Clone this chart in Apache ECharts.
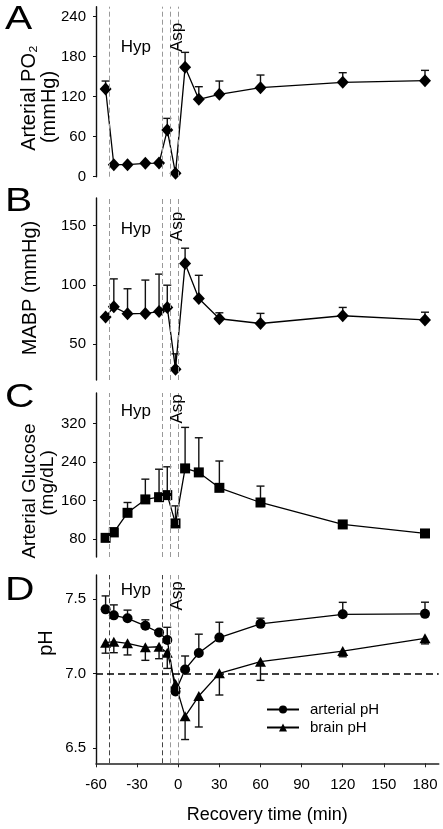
<!DOCTYPE html>
<html>
<head>
<meta charset="utf-8">
<script src="https://cdn.jsdelivr.net/npm/echarts@6/dist/echarts.min.js"></script>
<style>html,body{margin:0;padding:0;background:#fff;}#c{width:443px;height:829px;}</style>
</head>
<body>
<div id="c"></div>
<script>
// ---- data ----
const times = [-53, -47, -37, -24, -14, -8, -2, 5, 15, 30, 60, 120, 180];
const phaseLines = [-50, -12, -6, 0];
const xTicks = [-60, -30, 0, 30, 60, 90, 120, 150, 180];

const pao2 = [131.5, 18, 18, 20, 20.5, 70, 5, 164, 116, 123.5, 133.5, 141.5, 144];
const pao2Err = [12, 0, 0, 0, 0, 17.5, 0, 22.5, 19, 20, 19, 14.5, 15.5];
const pao2Ticks = [0, 60, 120, 180, 240];

const mabp = [73, 81.5, 75.7, 76, 77.5, 81, 29, 118, 88.5, 71.5, 67.5, 74, 70.5];
const mabpErr = [0, 23.5, 21, 28, 31.5, 18.7, 13, 12.8, 19.5, 5, 8.5, 7, 6.5];
const mabpTicks = [50, 100, 150];

const glucose = [82.7, 94, 134.6, 162.4, 167, 171.3, 112.6, 226.7, 218.4, 186.4, 156, 110.5, 91.8];
const glucoseErr = [0, 9.4, 21.4, 42, 58, 58.7, 36.4, 85, 71.8, 55.6, 34, 0, 0];
const glucoseTicks = [80, 160, 240, 320];

const arterialPH = [7.43, 7.39, 7.37, 7.32, 7.275, 7.225, 6.88, 7.028, 7.138, 7.241, 7.333, 7.397, 7.4];
const arterialPHErr = [0.09, 0.07, 0.055, 0.04, 0.015, 0.085, 0.03, 0.09, 0.126, 0.103, 0.038, 0.08, 0.078];
const brainPH = [7.207, 7.214, 7.203, 7.176, 7.18, 7.14, 6.93, 6.714, 6.85, 7.002, 7.08, 7.151, 7.236];
const brainPHErr = [0.07, 0.074, 0.078, 0.087, 0.08, 0.105, 0.05, 0.155, 0.207, 0.145, 0.125, 0.038, 0.037];
const phTicks = [6.5, 7.0, 7.5];
const phReference = 7.0;

// annotation anchors (data coordinates): [x, y] per panel
const hypAnchors = [[-31, 194], [-31, 146.4], [-31, 344], [-31, 7.56]];
const aspAnchors = [[-1, 209], [-1, 149], [-1, 350], [-1, 7.52]];

// ---- chart ----
const FONT = '"Liberation Sans", Arial, sans-serif';
const chart = echarts.init(document.getElementById('c'), null, {renderer: 'canvas'});

const panels = [
  {top: 6.7, height: 170, min: 0, max: 255, ticks: pao2Ticks, fmt: v => String(v)},
  {top: 198, height: 182, min: 20, max: 173, ticks: mabpTicks, fmt: v => String(v)},
  {top: 393, height: 164, min: 43, max: 383, ticks: glucoseTicks, fmt: v => String(v)},
  {top: 575, height: 188.3, min: 6.4, max: 7.66, ticks: phTicks, fmt: v => v.toFixed(1)}
];

const grids = [], xAxes = [], yAxes = [], series = [];
panels.forEach((p, i) => {
  grids.push({left: 96, right: 4.3, top: p.top, height: p.height, containLabel: false, outerBoundsMode: 'none'});
  const isBottom = i === 3;
  xAxes.push({
    type: 'value', gridIndex: i, min: -60, max: 190,
    show: true,
    axisLine: {show: isBottom, onZero: false, lineStyle: {color: '#222', width: 1.6}},
    axisTick: {show: isBottom, inside: false, length: 4, lineStyle: {color: '#222', width: 1}, customValues: xTicks},
    axisLabel: {show: isBottom, margin: 14, fontSize: 15, color: '#000', fontFamily: FONT, customValues: xTicks},
    splitLine: {show: false},
    name: isBottom ? 'Recovery time (min)' : '',
    nameLocation: 'middle', nameGap: 43,
    nameTextStyle: {fontSize: 18, color: '#000', fontFamily: FONT}
  });
  yAxes.push({
    type: 'value', gridIndex: i, min: p.min, max: p.max,
    axisLine: {show: true, onZero: false, lineStyle: {color: '#111', width: 1.4}},
    axisTick: {show: true, inside: false, length: 3, lineStyle: {color: '#111', width: 1}, customValues: p.ticks},
    axisLabel: {show: true, margin: 10, fontSize: 15, color: '#000', fontFamily: FONT, customValues: p.ticks, formatter: p.fmt},
    splitLine: {show: false}
  });
});

function pairs(xs, ys) { return xs.map((x, k) => [x, ys[k]]); }
function triples(xs, ys, es) { return xs.map((x, k) => [x, ys[k], es[k]]); }

function errSeries(idx, xs, ys, es, dir) {
  return {
    type: 'custom', xAxisIndex: idx, yAxisIndex: idx, silent: true, z: 1,
    data: triples(xs, ys, es),
    renderItem: function (params, api) {
      const e = api.value(2);
      if (!e) return null;
      const x = api.value(0), y = api.value(1);
      const p0 = api.coord([x, y]);
      const p1 = api.coord([x, y + dir * e]);
      const hw = 4;
      const st = {stroke: '#111', lineWidth: 1.4};
      return {type: 'group', children: [
        {type: 'line', shape: {x1: p0[0], y1: p0[1], x2: p1[0], y2: p1[1]}, style: st},
        {type: 'line', shape: {x1: p1[0] - hw, y1: p1[1], x2: p1[0] + hw, y2: p1[1]}, style: st}
      ]};
    }
  };
}

function phaseMark(dark, extra) {
  const data = phaseLines.map((v, k) => ({
    xAxis: v,
    lineStyle: {color: dark && k < 2 ? '#444' : '#999', type: [5, 3], width: 1}
  }));
  return {silent: true, symbol: ['none', 'none'], label: {show: false}, animation: false,
    data: data.concat(extra || [])};
}

function lineSeries(idx, name, ys, symbol, size, extraMark) {
  return {
    type: 'line', name: name, xAxisIndex: idx, yAxisIndex: idx, z: 3,
    data: pairs(times, ys), symbol: symbol, symbolSize: size, showSymbol: true,
    itemStyle: {color: '#000'}, lineStyle: {color: '#000', width: 1.3},
    markLine: phaseMark(idx === 3, extraMark)
  };
}

series.push(lineSeries(0, 'PO2', pao2, 'diamond', [12, 13]));
series.push(errSeries(0, times, pao2, pao2Err, 1));
series.push(lineSeries(1, 'MABP', mabp, 'diamond', [12, 13]));
series.push(errSeries(1, times, mabp, mabpErr, 1));
series.push(lineSeries(2, 'Glucose', glucose, 'rect', 10));
series.push(errSeries(2, times, glucose, glucoseErr, 1));
series.push(lineSeries(3, 'arterial pH', arterialPH, 'circle', 10,
  [{yAxis: phReference, lineStyle: {color: '#000', type: [7, 4], width: 1.5}}]));
series.push(errSeries(3, times, arterialPH, arterialPHErr, 1));
series.push({
  type: 'line', name: 'brain pH', xAxisIndex: 3, yAxisIndex: 3, z: 3,
  data: pairs(times, brainPH), symbol: 'triangle', symbolSize: [11, 10], showSymbol: true,
  itemStyle: {color: '#000'}, lineStyle: {color: '#000', width: 1.3}
});
series.push(errSeries(3, times, brainPH, brainPHErr, -1));

function vtext(txt, x, y, size) {
  return {type: 'text', x: x, y: y, rotation: Math.PI / 2, silent: true,
    style: {text: txt, fontSize: size, fontFamily: FONT, fill: '#000', align: 'center', verticalAlign: 'middle'}};
}
function letter(txt, y) {
  return {type: 'text', x: 5, y: y, scaleX: 1.2, silent: true,
    style: {text: txt, fontSize: 34, fontFamily: FONT, fill: '#000', align: 'left', verticalAlign: 'middle'}};
}

const graphics = [
  letter('A', 20), letter('B', 201.5), letter('C', 397.5), letter('D', 590.5),
  vtext('Arterial PO\u2082', 29.5, 98, 20), vtext('(mmHg)', 49.5, 107, 20),
  vtext('MABP (mmHg)', 30.5, 288, 20),
  vtext('Arterial Glucose', 29.5, 491, 19), vtext('(mg/dL)', 48, 483, 19),
  vtext('pH', 46, 643, 20)
];

chart.setOption({
  animation: false,
  backgroundColor: '#fff',
  grid: grids,
  xAxis: xAxes,
  yAxis: yAxes,
  legend: {
    show: true, data: ['arterial pH', 'brain pH'], orient: 'vertical',
    left: 266, top: 702, itemWidth: 32, itemHeight: 10, itemGap: 3, padding: 0,
    textStyle: {fontSize: 15, color: '#000', fontFamily: FONT, padding: [0, 0, 0, 6]}
  },
  graphic: graphics,
  series: series
});

// place phase annotations through the axes' own scales
panels.forEach((p, i) => {
  const h = chart.convertToPixel({gridIndex: i}, hypAnchors[i]);
  const a = chart.convertToPixel({gridIndex: i}, aspAnchors[i]);
  graphics.push({type: 'text', x: h[0], y: h[1], silent: true, z: 10,
    style: {text: 'Hyp', fontSize: 17, fontFamily: FONT, fill: '#000', align: 'center', verticalAlign: 'middle'}});
  graphics.push({type: 'text', x: a[0], y: a[1], rotation: Math.PI / 2, silent: true, z: 10,
    style: {text: 'Asp', fontSize: 17, fontFamily: FONT, fill: '#000', align: 'center', verticalAlign: 'middle'}});
});
chart.setOption({graphic: graphics});
</script>
</body>
</html>
